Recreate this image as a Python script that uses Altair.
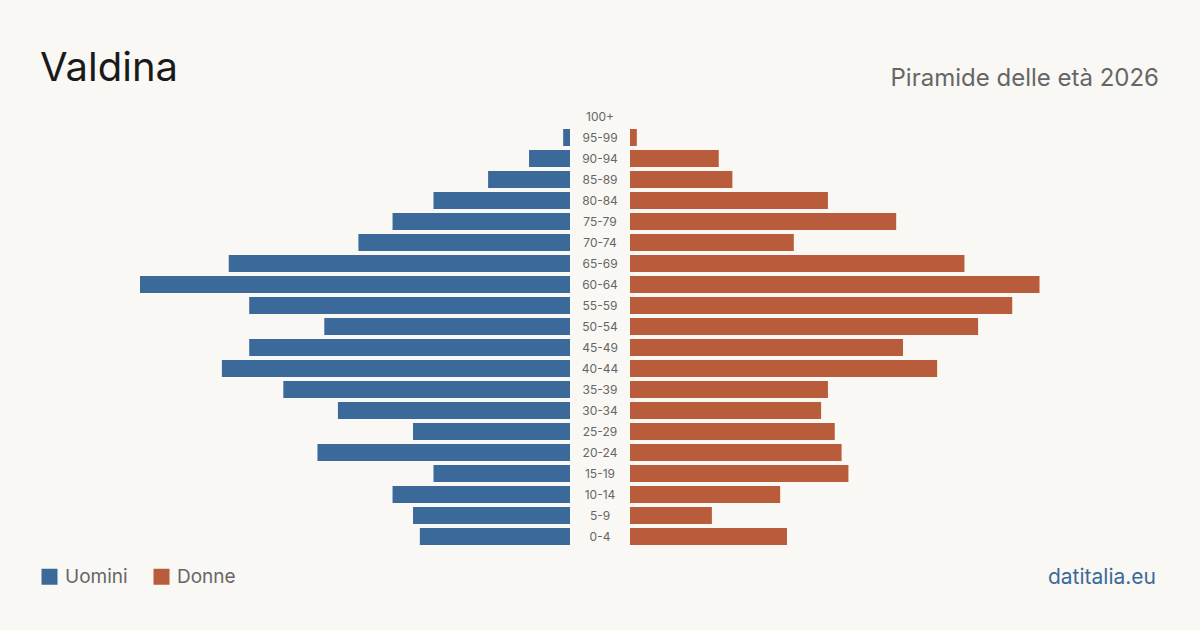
import altair as alt
import pandas as pd

ages = ["100+", "95-99", "90-94", "85-89", "80-84", "75-79", "70-74", "65-69",
        "60-64", "55-59", "50-54", "45-49", "40-44", "35-39", "30-34", "25-29",
        "20-24", "15-19", "10-14", "5-9", "0-4"]
men = [0, 1, 6, 12, 20, 26, 31, 50, 63, 47, 36, 47, 51, 42, 34, 23, 37, 20, 26, 23, 22]
women = [0, 1, 13, 15, 29, 39, 24, 49, 60, 56, 51, 40, 45, 29, 28, 30, 31, 32, 22, 12, 23]

BLUE = "#3b6a9a"
ORANGE = "#b95c3c"
BG = "#f9f8f4"
FONT = "Inter"
XMAX = 63
TOP = 105.5  # top of the plot area within the canvas

mdf = pd.DataFrame({"age": ages, "value": men, "sex": "Uomini"})
wdf = pd.DataFrame({"age": ages, "value": women, "sex": "Donne"})
adf = pd.DataFrame({"age": ages})
one = pd.DataFrame({"t": ["Valdina"]})

y = alt.Y("age:N", sort=ages, axis=None,
          scale=alt.Scale(paddingInner=0.19, paddingOuter=0.095))
color = alt.Color(
    "sex:N",
    scale=alt.Scale(domain=["Uomini", "Donne"], range=[BLUE, ORANGE]),
    legend=alt.Legend(title=None, orient="none", legendX=-100, legendY=566.5 - TOP,
                      direction="horizontal", symbolType="square", symbolSize=256,
                      symbolStrokeWidth=0, labelFontSize=19, labelColor="#666666",
                      labelFont=FONT, columnPadding=24, labelOffset=6, padding=0),
)

# full-canvas background rectangle (fixes the overall frame at 1200x630)
frame = alt.Chart(one).mark_rect(color=BG).encode(
    x=alt.value(-140), x2=alt.value(1060), y=alt.value(-TOP), y2=alt.value(630 - TOP)
)
title = alt.Chart(one).mark_text(
    align="left", baseline="alphabetic", fontSize=40, color="#1a1a1a", font=FONT
).encode(x=alt.value(-100), y=alt.value(80 - TOP), text="t:N")
left_bars = alt.Chart(mdf).mark_bar().encode(
    x=alt.X("value:Q", scale=alt.Scale(domain=[0, XMAX], reverse=True), axis=None),
    y=y, color=color,
)
left = alt.layer(frame, title, left_bars).properties(width=430, height=441)

mid = alt.Chart(adf).mark_text(fontSize=12, color="#666666", font=FONT).encode(
    y=y, text="age:N", x=alt.value(30),
).properties(width=60, height=441)

right_bars = alt.Chart(wdf).mark_bar().encode(
    x=alt.X("value:Q", scale=alt.Scale(domain=[0, XMAX]), axis=None),
    y=y, color=color,
)
sub = alt.Chart(pd.DataFrame({"t": ["Piramide delle età 2026"]})).mark_text(
    align="right", baseline="alphabetic", fontSize=24, color="#666666", font=FONT
).encode(x=alt.value(529), y=alt.value(85 - TOP), text="t:N")
site = alt.Chart(pd.DataFrame({"t": ["datitalia.eu"]})).mark_text(
    align="right", baseline="alphabetic", fontSize=21, color=BLUE, font=FONT
).encode(x=alt.value(526), y=alt.value(583 - TOP), text="t:N")
right = alt.layer(right_bars, sub, site).properties(width=430, height=441)

chart = alt.hconcat(left, mid, right, spacing=0, bounds="flush").properties(
    padding=0,
    autosize="pad",
    background=BG,
).configure_view(stroke=None).configure_concat(spacing=0)

chart.save("out.html", embed_options={"renderer": "svg", "actions": False})
